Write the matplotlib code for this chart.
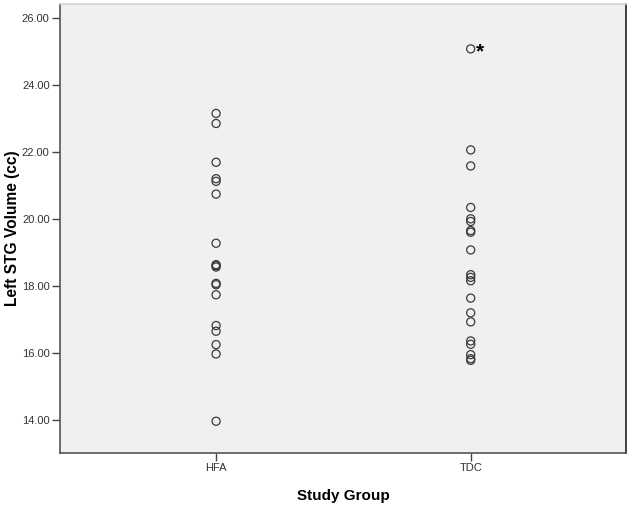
import numpy as np
import matplotlib.pyplot as plt

plt.rcParams['font.family'] = ['Liberation Sans', 'DejaVu Sans']

# data
groups = ['HFA', 'TDC']
hfa = [23.15, 22.85, 21.69, 21.20, 21.12, 20.74, 19.27, 18.63, 18.60, 18.56,
       18.07, 18.03, 17.73, 16.81, 16.64, 16.24, 15.96, 13.95]
tdc = [25.08, 22.06, 21.58, 20.34, 20.00, 19.92, 19.65, 19.60, 19.07, 18.33,
       18.25, 18.15, 17.63, 17.19, 16.92, 16.35, 16.25, 15.94, 15.82, 15.77]
outlier_value = 25.08
yticks = [14, 16, 18, 20, 22, 24, 26]

fig = plt.figure(figsize=(6.31, 5.07), dpi=100)
ax = fig.add_axes([0.0951, 0.1065, 0.8970, 0.8855])
ax.set_facecolor('#f0f0f0')

for i, vals in enumerate([hfa, tdc]):
    ax.scatter(np.full(len(vals), i + 1), vals, s=34, facecolors='none',
               edgecolors='#3a3a3a', linewidths=0.9, zorder=3)

ax.annotate('*', xy=(2, outlier_value), xytext=(4, -6), textcoords='offset points',
            fontsize=15, fontweight='bold', color='black')

ax.set_xlim(0.387, 2.61)
ax.set_ylim(13.0, 26.42)
ax.set_xticks([1, 2])
ax.set_xticklabels(groups)
ax.set_yticks(yticks)
ax.set_yticklabels([f'{v:.2f}' for v in yticks])
ax.tick_params(axis='both', direction='out', length=6, width=1, color='#444444',
               labelsize=8, labelcolor='#333333', pad=1.5)

for s in ax.spines.values():
    s.set_color('#555555')
    s.set_linewidth(1.2)
ax.spines['top'].set_color('#d4d4d4')
ax.spines['right'].set_color('#222222')
ax.spines['right'].set_linewidth(1.2)

ax.set_xlabel('Study Group', fontsize=11, fontweight='bold', labelpad=11)
ax.set_ylabel('Left STG Volume (cc)', fontsize=11.2, fontweight='bold')
ax.yaxis.set_label_coords(-0.07, 0.5)

fig.savefig('out.png', dpi=100)
